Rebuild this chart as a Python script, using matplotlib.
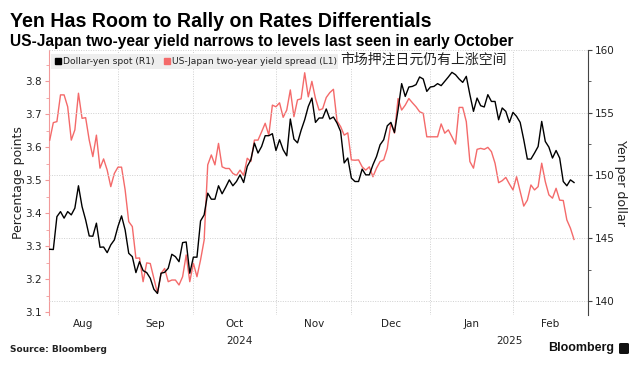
import numpy as np
import pandas as pd
import matplotlib
matplotlib.use('Agg')
import matplotlib.pyplot as plt
import matplotlib.transforms as mtransforms
from matplotlib.lines import Line2D
from matplotlib.patches import FancyBboxPatch
from matplotlib.ticker import MultipleLocator

# US-Japan two-year yield spread, percentage points (left axis), one value per business day
spread = [3.622, 3.675, 3.678, 3.759, 3.759, 3.723, 3.622, 3.653, 3.764, 3.688,
          3.690, 3.622, 3.572, 3.637, 3.537, 3.565, 3.531, 3.481, 3.521, 3.540,
          3.540, 3.471, 3.375, 3.360, 3.264, 3.265, 3.193, 3.250, 3.248, 3.203,
          3.158, 3.218, 3.233, 3.193, 3.198, 3.198, 3.183, 3.208, 3.274, 3.193,
          3.249, 3.208, 3.259, 3.319, 3.547, 3.577, 3.547, 3.612, 3.541, 3.536,
          3.536, 3.521, 3.515, 3.531, 3.515, 3.567, 3.557, 3.622, 3.622, 3.647,
          3.673, 3.637, 3.728, 3.723, 3.735, 3.691, 3.713, 3.774, 3.693, 3.744,
          3.747, 3.826, 3.753, 3.800, 3.748, 3.713, 3.717, 3.751, 3.766, 3.776,
          3.680, 3.663, 3.637, 3.644, 3.562, 3.561, 3.562, 3.541, 3.531, 3.541,
          3.511, 3.537, 3.557, 3.562, 3.597, 3.673, 3.643, 3.748, 3.713, 3.728,
          3.748, 3.735, 3.723, 3.708, 3.703, 3.632, 3.632, 3.632, 3.632, 3.671,
          3.643, 3.653, 3.632, 3.610, 3.721, 3.721, 3.678, 3.557, 3.537, 3.594,
          3.597, 3.594, 3.600, 3.587, 3.552, 3.493, 3.499, 3.509, 3.489, 3.471,
          3.511, 3.466, 3.422, 3.440, 3.486, 3.471, 3.481, 3.552, 3.496, 3.456,
          3.446, 3.476, 3.440, 3.439, 3.380, 3.355, 3.321]

# Dollar-yen spot (right axis)
usdjpy = [144.12, 144.10, 146.72, 147.12, 146.60, 147.12, 146.86, 147.40, 149.18, 147.52,
          146.46, 145.18, 145.16, 146.20, 144.28, 144.30, 143.85, 144.47, 144.87, 145.93,
          146.78, 145.66, 143.80, 143.53, 142.26, 143.13, 142.42, 142.26, 141.81, 140.93,
          140.60, 142.21, 142.28, 142.61, 143.72, 143.53, 143.13, 144.65, 144.70, 142.21,
          143.49, 143.49, 146.38, 146.86, 148.59, 148.11, 148.11, 149.18, 148.54, 149.07,
          149.65, 149.18, 149.52, 150.05, 149.44, 150.72, 151.25, 152.58, 151.79, 152.31,
          153.17, 153.17, 153.33, 151.99, 152.85, 152.05, 151.57, 154.50, 152.90, 152.60,
          153.60, 154.44, 155.50, 156.17, 154.23, 154.58, 154.58, 155.30, 154.50, 154.66,
          154.18, 153.51, 151.00, 151.39, 149.79, 149.52, 149.52, 150.51, 150.05, 150.05,
          150.85, 151.51, 152.45, 152.85, 153.96, 154.23, 153.43, 155.24, 157.32, 156.30,
          157.05, 157.10, 157.24, 157.85, 157.69, 156.70, 157.05, 157.10, 157.32, 157.16,
          157.50, 157.85, 158.22, 158.03, 157.69, 157.42, 157.90, 156.44, 155.11, 156.17,
          155.56, 155.46, 156.44, 155.90, 155.90, 154.44, 155.38, 155.11, 154.23, 155.03,
          154.71, 154.23, 152.85, 151.31, 151.31, 151.79, 152.31, 154.31, 152.71, 152.26,
          151.39, 151.99, 151.39, 149.52, 149.18, 149.65, 149.44]

dates = pd.bdate_range('2024-08-06', periods=len(spread))
month_labels = ['Aug', 'Sep', 'Oct', 'Nov', 'Dec', 'Jan', 'Feb']
year_labels = ['2024', '2025']

red = '#f46a6a'
pink = '#f29a9a'
grid_col = '#d0d0d0'

fig = plt.figure(figsize=(6.44, 3.69), dpi=100)
ax = fig.add_axes([0.0761, 0.1463, 0.8370, 0.7182])
ax2 = ax.twinx()

x = np.arange(len(dates))
ax.plot(x, spread, color=red, lw=1.0, zorder=3)
ax2.plot(x, usdjpy, color='black', lw=1.0, zorder=3)

# x axis: business days evenly spaced, gridlines at month starts
xmin, xmax = -0.2, 149.9
ax.set_xlim(xmin, xmax)
days = pd.bdate_range('2024-08-06', '2025-02-28')
bounds = [i for i in range(1, len(days)) if days[i].month != days[i - 1].month]
edges = [xmin] + bounds + [xmax]
centers = [(a + b) / 2 for a, b in zip(edges[:-1], edges[1:])]
ax.set_xticks(bounds)
ax.set_xticklabels([])
ax.set_xticks(centers, minor=True)
ax.set_xticklabels(month_labels, minor=True)
ax.tick_params(axis='x', which='both', length=0, labelsize=7.5, colors='#222222', pad=3)
ax.xaxis.grid(True, which='major', color=grid_col, lw=0.7, linestyle=(0, (1, 1.5)))

jan = bounds[month_labels.index('Jan') - 1]
year_centers = [(xmin + jan) / 2, (jan + xmax) / 2]
trans = mtransforms.blended_transform_factory(ax.transData, ax.transAxes)
for xc, lab in zip(year_centers, year_labels):
    ax.text(xc, -0.078, lab, transform=trans, ha='center', va='top', fontsize=7.5, color='#222222')

# left axis (spread)
ax.set_ylim(3.092, 3.895)
ax.yaxis.set_major_locator(MultipleLocator(0.1))
ax.yaxis.set_minor_locator(MultipleLocator(0.05))
ax.tick_params(axis='y', which='major', length=3, width=0.8, color=pink, labelcolor='#222222', labelsize=7.5, pad=2)
ax.tick_params(axis='y', which='minor', length=2, width=0.6, color=pink)
for s in ['top', 'right', 'bottom']:
    ax.spines[s].set_visible(False)
ax.spines['left'].set_color(pink)
ax.set_ylabel('Percentage points', fontsize=9, color='#222222')
ax.yaxis.set_label_coords(-0.045, 0.5)

# right axis (yen)
ax2.set_ylim(138.88, 160.0)
ax2.yaxis.set_major_locator(MultipleLocator(5))
ax2.yaxis.set_minor_locator(MultipleLocator(2.5))
ax2.tick_params(axis='y', which='major', length=3, width=0.8, color='#444444', labelcolor='#222222', labelsize=7.5, pad=2)
ax2.tick_params(axis='y', which='minor', length=2, width=0.6, color='#444444')
for s in ['top', 'left', 'bottom']:
    ax2.spines[s].set_visible(False)
ax2.spines['right'].set_color('#444444')
ax2.yaxis.grid(True, which='major', color=grid_col, lw=0.7, linestyle=(0, (1, 1.5)))
ax2.set_ylabel('Yen per dollar', fontsize=9, color='#222222', rotation=270, va='center')
ax2.yaxis.set_label_coords(1.061, 0.5)

# legend
handles = [Line2D([], [], marker='s', color='black', linestyle='none', markersize=5),
           Line2D([], [], marker='s', color=red, linestyle='none', markersize=5)]
leg = ax2.legend(handles, ['Dollar-yen spot (R1)', 'US-Japan two-year yield spread (L1)'],
                 loc='upper left', bbox_to_anchor=(0.004, 0.985), ncol=2, fontsize=6.6,
                 frameon=True, fancybox=False, handlelength=0.7, handletextpad=0.25,
                 columnspacing=1.0, borderpad=0.35, borderaxespad=0)
leg.get_frame().set_facecolor('#eeeeee')
leg.get_frame().set_edgecolor('none')
leg.get_frame().set_alpha(1)
for t in leg.get_texts():
    t.set_color('#222222')

fig.text(0.528, 0.837, '市场押注日元仍有上涨空间', family=['Noto Sans CJK SC', 'DejaVu Sans'],
         fontsize=10, color='#222222', va='center', ha='left',
         bbox=dict(facecolor='white', edgecolor='none', pad=1.5))

# titles
fig.text(0.0155, 0.928, 'Yen Has Room to Rally on Rates Differentials',
         family=['Liberation Sans', 'DejaVu Sans'], fontweight='bold', fontsize=14.1, color='black')
fig.text(0.0155, 0.875, 'US-Japan two-year yield narrows to levels last seen in early October',
         family=['Liberation Sans', 'DejaVu Sans'], fontweight='bold', fontsize=11.2, color='black')

# footer
fig.text(0.0155, 0.046, 'Source: Bloomberg', fontweight='bold', fontsize=6.5, color='#222222')
fig.text(0.953, 0.050, 'Bloomberg', family=['Liberation Sans', 'DejaVu Sans'], fontweight='bold',
         fontsize=9, color='#111111', ha='right')
fig.add_artist(FancyBboxPatch((619 / 644, 15 / 369), 10 / 644, 11 / 369,
                              boxstyle='round,pad=0,rounding_size=0.003',
                              transform=fig.transFigure, facecolor='#111111', edgecolor='none'))

fig.savefig('out.png', dpi=100)
